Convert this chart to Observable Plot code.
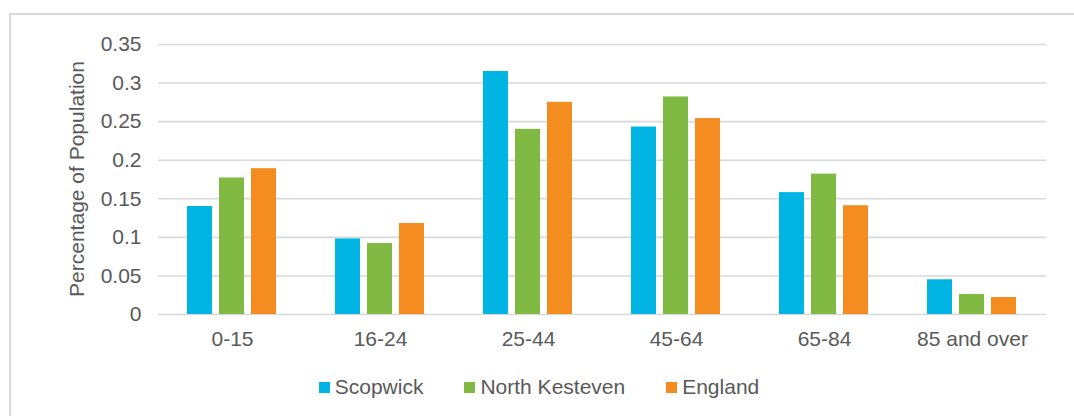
<!DOCTYPE html>
<html>
<head>
<meta charset="utf-8">
<script src="https://cdn.jsdelivr.net/npm/d3@7"></script>
<script src="https://cdn.jsdelivr.net/npm/@observablehq/plot@0.6"></script>
<style>
  html, body { margin: 0; padding: 0; background: #fff; width: 1074px; height: 416px; overflow: hidden; }
  body { position: relative; font-family: "Liberation Sans", Arial, sans-serif; color: #595959; }
  #frame { position: absolute; left: 9px; top: 13px; width: 1200px; height: 500px;
           border-left: 2px solid #d9d9d9; border-top: 2px solid #d9d9d9; }
  #chart { position: absolute; left: 0; top: 0; }
  #ytitle { position: absolute; left: 77px; top: 179px; transform: translate(-50%, -50%) rotate(-90deg);
            white-space: nowrap; font-size: 21px; }
  #legend { position: absolute; top: 375px; left: 0; width: 1074px; display: flex; justify-content: center;
            gap: 41px; font-size: 21px; padding-left: 4px; box-sizing: border-box; }
  .item { display: flex; align-items: center; gap: 5px; }
  .sw { width: 11px; height: 11px; display: inline-block; }
</style>
</head>
<body>
<div id="frame"></div>
<div id="chart"></div>
<div id="ytitle">Percentage of Population</div>
<div id="legend"></div>
<script>
const categories = ["0-15", "16-24", "25-44", "45-64", "65-84", "85 and over"];
const seriesNames = ["Scopwick", "North Kesteven", "England"];
const scopwick      = [0.140, 0.098, 0.315, 0.243, 0.158, 0.045];
const northKesteven = [0.177, 0.092, 0.240, 0.282, 0.182, 0.026];
const england       = [0.189, 0.118, 0.275, 0.254, 0.141, 0.022];
const colors = ["#00B4E3", "#80BA43", "#F58C20"];
const yTicks = [0, 0.05, 0.1, 0.15, 0.2, 0.25, 0.3, 0.35];

const seriesValues = [scopwick, northKesteven, england];
const data = [];
categories.forEach((c, i) => {
  seriesNames.forEach((s, j) => data.push({category: c, series: s, value: seriesValues[j][i]}));
});

const chart = Plot.plot({
  width: 1074,
  height: 360,
  marginLeft: 157,
  marginRight: 28,
  marginTop: 44,
  marginBottom: 46,
  style: { fontFamily: "'Liberation Sans', Arial, sans-serif", fontSize: "21px", color: "#595959", background: "transparent" },
  fx: { domain: categories, padding: 0, label: null, axis: "bottom", tickSize: 0, tickPadding: 17 },
  x: { domain: seriesNames, paddingInner: 0.21, paddingOuter: 0.85, axis: null },
  y: { domain: [0, 0.35], ticks: yTicks, tickSize: 0, tickPadding: 17, label: null,
       tickFormat: d => String(+d.toFixed(2)) },
  color: { domain: seriesNames, range: colors },
  marks: [
    Plot.ruleY(yTicks, { stroke: "#d9d9d9", strokeWidth: 1.6 }),
    Plot.barY(data, { fx: "category", x: "series", y: "value", fill: "series" })
  ]
});
document.getElementById("chart").appendChild(chart);

const legend = document.getElementById("legend");
seriesNames.forEach((s, j) => {
  const it = document.createElement("div");
  it.className = "item";
  it.innerHTML = `<span class="sw" style="background:${colors[j]}"></span><span>${s}</span>`;
  legend.appendChild(it);
});
</script>
</body>
</html>
